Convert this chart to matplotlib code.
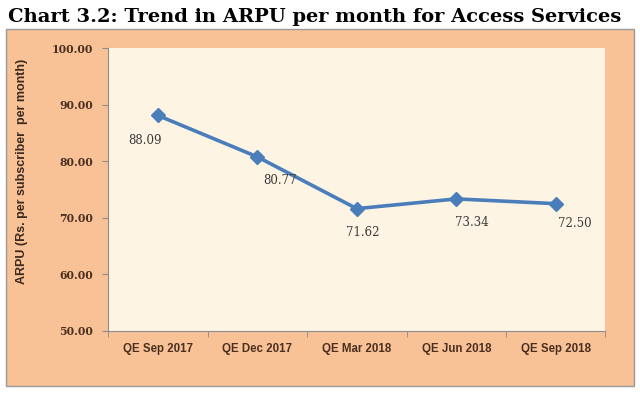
import matplotlib.pyplot as plt
from matplotlib.patches import Rectangle

quarters = ['QE Sep 2017', 'QE Dec 2017', 'QE Mar 2018', 'QE Jun 2018', 'QE Sep 2018']
arpu = [88.09, 80.77, 71.62, 73.34, 72.50]
# label offsets in points (dx, dy)
label_offsets = [(-9, -18), (16, -17), (4, -17), (11, -17), (14, -14)]

tick_color = '#4a3020'

fig = plt.figure(figsize=(6.4, 3.94), dpi=100)
fig.patch.set_facecolor('white')

# orange chart panel
panel = Rectangle((0.009, 0.020), 0.982, 0.906, transform=fig.transFigure,
                  facecolor='#f9c196', edgecolor='#9a9a9a', linewidth=1.0, zorder=-1)
fig.patches.append(panel)

fig.text(0.012, 0.958, 'Chart 3.2: Trend in ARPU per month for Access Services',
         fontsize=14, fontweight='bold', family='DejaVu Serif', ha='left', va='center')

ax = fig.add_axes([0.169, 0.160, 0.777, 0.718])
ax.set_zorder(2)
ax.set_facecolor('#fdf4e3')
x = list(range(len(quarters)))
ax.plot(x, arpu, color='#4a7ebb', linewidth=2.6, marker='D', markersize=7,
        markerfacecolor='#4a7ebb', markeredgecolor='#4a7ebb')

for xi, val, (dx, dy) in zip(x, arpu, label_offsets):
    ax.annotate(f'{val:.2f}', (xi, val), xytext=(dx, dy), textcoords='offset points',
                ha='center', va='center', fontsize=8.5, color='#3a3a3a', family='DejaVu Serif')

ax.set_xlim(-0.5, len(quarters) - 0.5)
ax.set_ylim(50, 100)
ax.set_yticks([50, 60, 70, 80, 90, 100])
ax.set_yticklabels([f'{v:.2f}' for v in [50, 60, 70, 80, 90, 100]])
ax.set_xticks(x)
ax.set_xticklabels(quarters)
ax.set_xticks([i - 0.5 for i in range(len(quarters) + 1)], minor=True)
ax.tick_params(axis='x', which='major', length=0, pad=9)
ax.tick_params(axis='x', which='minor', length=4, color='#8c8c8c', direction='out')
ax.tick_params(axis='y', length=4, color='#8c8c8c', direction='out', pad=7)
for lab in ax.get_xticklabels():
    lab.set_fontweight('bold')
    lab.set_color(tick_color)
    lab.set_fontsize(8.3)
    lab.set_family('Liberation Sans')
for lab in ax.get_yticklabels():
    lab.set_fontweight('bold')
    lab.set_color(tick_color)
    lab.set_fontsize(7.8)
    lab.set_family('DejaVu Serif')

for s in ['top', 'right']:
    ax.spines[s].set_visible(False)
for s in ['left', 'bottom']:
    ax.spines[s].set_color('#8c8c8c')
    ax.spines[s].set_linewidth(0.8)

fig.text(0.034, 0.566, 'ARPU (Rs. per subscriber  per month)', rotation=90,
         fontsize=9, fontweight='bold', color='#3a2a20', ha='center', va='center',
         family='Liberation Sans')

fig.savefig('out.png', dpi=100)
